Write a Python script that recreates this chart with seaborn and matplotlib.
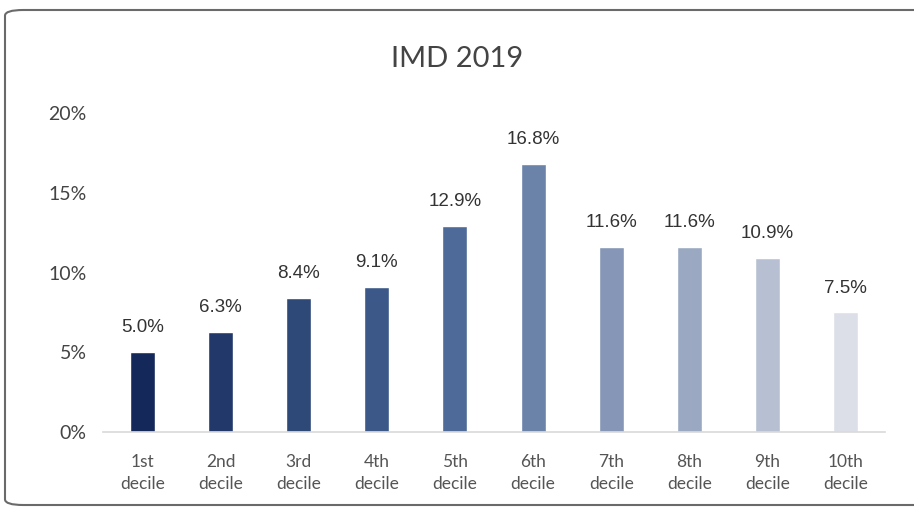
import matplotlib
matplotlib.use("Agg")
import matplotlib.pyplot as plt
from matplotlib.patches import FancyBboxPatch
import seaborn as sns
import pandas as pd

categories = ["1st\ndecile", "2nd\ndecile", "3rd\ndecile", "4th\ndecile", "5th\ndecile",
              "6th\ndecile", "7th\ndecile", "8th\ndecile", "9th\ndecile", "10th\ndecile"]
shares = [5.0, 6.3, 8.4, 9.1, 12.9, 16.8, 11.6, 11.6, 10.9, 7.5]
bar_colors = ["#15285a", "#22386a", "#2e4878", "#3b5888", "#4e6a98",
              "#6b82a9", "#8596b6", "#9aa8c2", "#b7c0d2", "#dcdfe7"]

df = pd.DataFrame({"decile": categories, "share": shares})

sns.set_theme(style="white")
plt.rcParams["font.family"] = ["Lato", "DejaVu Sans"]

fig = plt.figure(figsize=(9.14, 5.09), dpi=100)
ax = fig.add_axes([0.113, 0.151, 0.855, 0.627])

sns.barplot(data=df, x="decile", y="share", hue="decile", palette=bar_colors,
            legend=False, width=0.32, ax=ax, saturation=1)

for i, v in enumerate(shares):
    ax.text(i, v + 1.0, f"{v:.1f}%", ha="center", va="bottom",
            fontsize=13.5, color="#333333", fontfamily="Liberation Sans")

ax.set_ylim(0, 20)
ax.set_yticks([0, 5, 10, 15, 20])
ax.set_yticklabels(["0%", "5%", "10%", "15%", "20%"], fontsize=14, color="#444444")
ax.set_xticks(range(len(categories)))
ax.set_xticklabels(categories, fontsize=12.5, color="#555555", linespacing=1.45)
ax.tick_params(axis="x", pad=16, length=0)
ax.tick_params(axis="y", pad=12, length=0)
ax.set_xlabel("")
ax.set_ylabel("")
for s in ["top", "right", "left"]:
    ax.spines[s].set_visible(False)
ax.spines["bottom"].set_color("#d9d9d9")
ax.spines["bottom"].set_linewidth(1.2)

fig.text(0.5, 0.885, "IMD 2019", ha="center", va="center", fontsize=21, color="#444444")

border = FancyBboxPatch((5 / 914, 4 / 509), 930 / 914, 495 / 509,
                        boxstyle="round,pad=0,rounding_size=0.02",
                        transform=fig.transFigure, facecolor="none",
                        edgecolor="#6a6a6a", linewidth=1.5, mutation_aspect=509 / 914)
fig.patches.append(border)

fig.savefig("out.png", dpi=100)
